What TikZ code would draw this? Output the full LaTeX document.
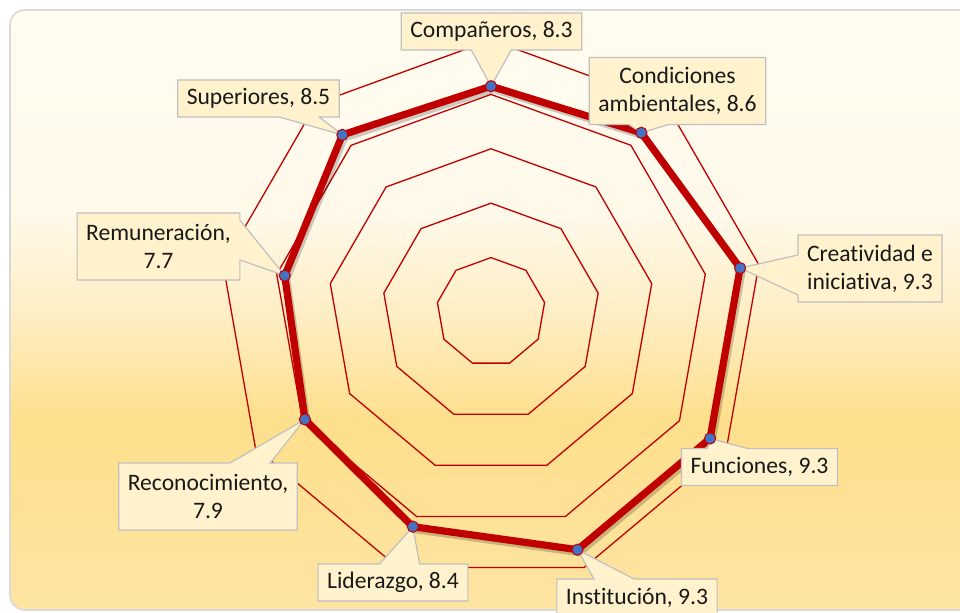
\documentclass[tikz,border=0pt]{standalone}
\usepackage{fontspec}
\setmainfont{Carlito}[Ligatures=NoCommon]
\usetikzlibrary{shapes.callouts}
\definecolor{chartred}{HTML}{C00000}
\definecolor{markblue}{HTML}{4472C4}
\definecolor{callfill}{HTML}{FFF2CC}
\definecolor{callline}{HTML}{BFBFBF}
\definecolor{framegray}{HTML}{D9D9D9}
\definecolor{bgA}{HTML}{FFFCF0}
\definecolor{bgB}{HTML}{FFF9EA}
\definecolor{bgC}{HTML}{FEEDC1}
\definecolor{bgD}{HTML}{FEDF8C}
\definecolor{bgE}{HTML}{FDE4A2}
\pgfdeclareverticalshading{goldfill}{100bp}{color(0bp)=(bgE); color(25bp)=(bgE);
  color(41bp)=(bgD); color(49bp)=(bgC); color(58bp)=(bgB); color(75bp)=(bgA); color(100bp)=(bgA)}
\begin{document}
\begin{tikzpicture}[x=0.5pt,y=0.5pt,
    ring/.style={chartred,line width=0.65pt},
    series/.style={chartred,line width=3.6pt,line join=round},
    callbox/.style={rectangle callout,fill=callfill,draw=callline,line width=0.6pt,
      callout pointer width=20pt,inner xsep=4.5pt,inner ysep=1pt,minimum height=18.5pt,
      align=center,text=black!90,font=\fontsize{11.8}{14}\selectfont},
    tallbox/.style={callbox,minimum height=33.5pt}]
\useasboundingbox (0,0) rectangle (960,613);
\clip (0,0) rectangle (960,613);
\path[shading=goldfill,draw=framegray,line width=0.8pt,rounded corners=7.5pt]
  (10,3) rectangle (990,603);
% rings and data points
\begin{scope}[shift={(245.5pt,150.5pt)},x=13.6pt,y=13.6pt]
  \foreach \r in {2,4,...,10}
    \draw[ring] (90:\r) \foreach \k in {1,...,8}{ -- ({90-40*\k}:\r)} -- cycle;
  \foreach \v [count=\k from 0] in {8.3,8.6,9.3,9.3,9.3,8.4,7.9,7.7,8.5}
    \coordinate (p\k) at ({90-40*\k}:\v);
\end{scope}
\draw[series,black,opacity=.2,transform canvas={xshift=1pt,yshift=-1.5pt}]
  (p0) \foreach \k in {1,...,8}{ -- (p\k)} -- cycle;
\draw[series] (p0) \foreach \k in {1,...,8}{ -- (p\k)} -- cycle;
% labels
\node[callbox,callout absolute pointer={(p0)}] (l0) at (491.5,581.5) {Compañeros, 8.3};
\node[tallbox,callout absolute pointer={(p1)}] (l1) at (677.5,522) {Condiciones\\ambientales, 8.6};
\node[tallbox,callout absolute pointer={(p2)}] (l2) at (870,344.5) {Creatividad e\\iniciativa, 9.3};
\node[callbox,callout absolute pointer={(p3)}] (l3) at (759.5,146) {Funciones, 9.3};
\node[callbox,callout absolute pointer={(p4)}] (l4) at (637,15.5) {Institución, 9.3};
\node[callbox,callout absolute pointer={(p5)}] (l5) at (393,30.5) {Liderazgo, 8.4};
\node[tallbox,callout absolute pointer={(p6)}] (l6) at (208,116.5) {Reconocimiento,\\7.9};
\node[tallbox,callout absolute pointer={(p7)}] (l7) at (158.5,366.5) {Remuneración,\\7.7};
\node[callbox,callout absolute pointer={(p8)}] (l8) at (258.5,514.5) {Superiores, 8.5};
\foreach \k in {0,...,8}
  \draw[chartred,fill=markblue,line width=0.5pt] (p\k) circle (2.8pt);
\end{tikzpicture}
\end{document}
